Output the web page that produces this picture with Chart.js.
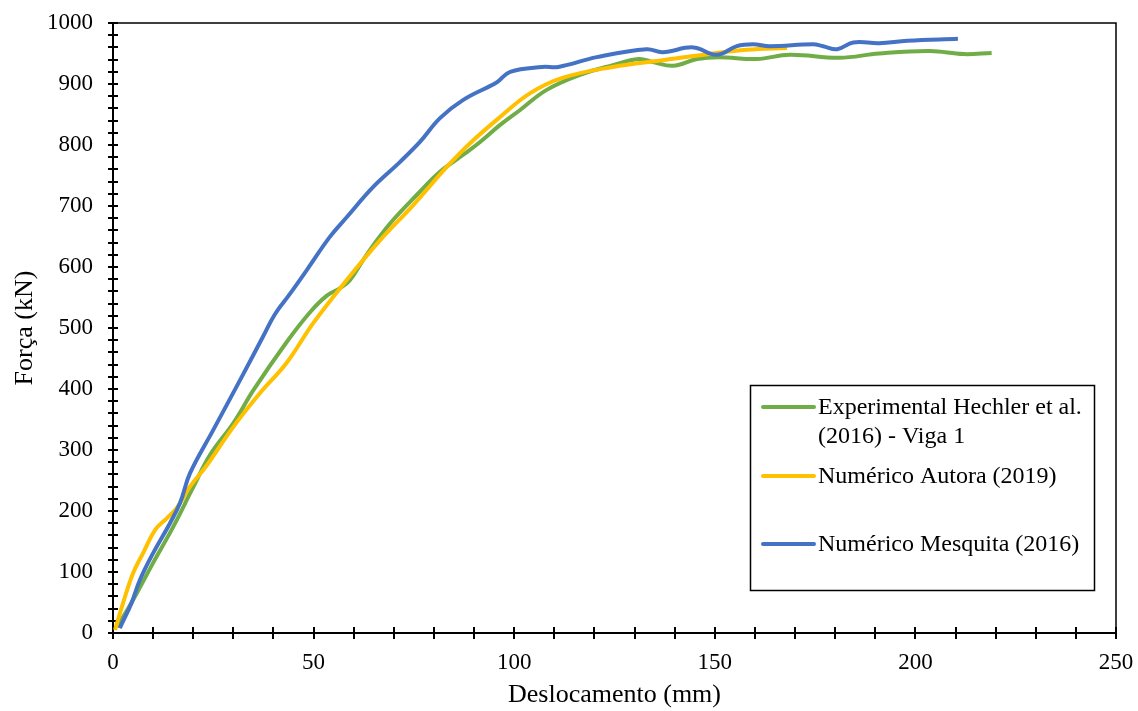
<!DOCTYPE html>
<html lang="pt">
<head>
<meta charset="UTF-8">
<title>Força x Deslocamento</title>
<script src="https://cdn.jsdelivr.net/npm/chart.js"></script>
<style>
  html, body { margin: 0; padding: 0; background: #fff; }
</style>
</head>
<body>
<canvas id="grafico" width="1138" height="711"></canvas>
<script>
  // Curvas força x deslocamento (mm, kN)
  const expX = [1, 5, 10, 15, 20, 24.2, 30, 35, 43.3, 49, 53.3, 56.5, 59, 62.3, 65.8, 69.8, 75.7, 81.5, 87.3, 91.5, 96.5, 101.4, 108, 116.4, 124.6, 131, 134.6, 139.6, 145.6, 151, 160.5, 168.7, 181, 191, 203.6, 212, 219];
  const expY = [10, 54, 115, 174, 239, 292, 344, 398, 477, 525, 553, 565, 578, 611, 644, 677, 718, 756, 784, 805, 833, 857, 890, 915, 931, 941, 936, 930, 941, 944, 941, 948, 943, 950, 954, 949, 951];

  const autoraX = [0.5, 2.5, 5, 7.5, 10.5, 13.4, 15.9, 19.2, 23.4, 30, 36.6, 43.3, 49.9, 58.3, 66.6, 74.9, 83.2, 89, 96.5, 104, 112, 124.6, 137, 149.5, 158, 168];
  const autoraY = [5, 49, 98, 131, 169, 188, 205, 240, 275, 338, 393, 443, 508, 579, 644, 702, 764, 803, 846, 885, 910, 928, 939, 950, 956, 959];

  const mesqX = [1.7, 4.6, 6.7, 10, 14.2, 16.7, 19.2, 25, 31.7, 37.4, 40.4, 44, 48.3, 54, 58.3, 64.8, 71.5, 76.5, 81.5, 87.3, 95.7, 99, 107, 111, 120.6, 133, 137, 144.6, 150.5, 155.5, 159.5, 163.7, 174.5, 177, 180.5, 184.5, 191, 198, 210.6];
  const mesqY = [8, 49, 87, 131, 180, 213, 262, 333, 415, 486, 523, 555, 595, 649, 682, 731, 772, 805, 844, 874, 903, 920, 928, 928, 944, 957, 952, 960, 948, 962, 965, 962, 965, 962, 957, 968, 967, 971, 974];

  const nomes = ['Experimental Hechler et al. (2016) - Viga 1', 'Numérico Autora (2019)', 'Numérico Mesquita (2016)'];
  const cores = ['#70AD47', '#FFC000', '#4472C4'];

  const fonte = '"Liberation Serif", "Times New Roman", serif';

  function pontos(xs, ys) {
    return xs.map((x, i) => ({ x: x, y: ys[i] }));
  }

  // eixos com marcas que cruzam a linha, e moldura da área do gráfico
  const eixos = {
    id: 'eixos',
    beforeDatasetsDraw(chart) {
      const { ctx, chartArea: a, scales } = chart;
      ctx.save();
      ctx.strokeStyle = '#000';
      ctx.lineWidth = 1.5;
      ctx.strokeRect(a.left, a.top, a.right - a.left, a.bottom - a.top);

      ctx.lineWidth = 2;
      ctx.beginPath();
      ctx.moveTo(a.left, a.top);
      ctx.lineTo(a.left, a.bottom);
      ctx.lineTo(a.right, a.bottom);
      ctx.stroke();

      ctx.beginPath();
      for (let v = 0; v <= 250; v += 10) {
        const px = Math.round(scales.x.getPixelForValue(v));
        ctx.moveTo(px, a.bottom - 6);
        ctx.lineTo(px, a.bottom + 6);
      }
      for (let v = 0; v <= 1000; v += 20) {
        const py = Math.round(scales.y.getPixelForValue(v));
        ctx.moveTo(a.left - 5, py);
        ctx.lineTo(a.left + 5, py);
      }
      ctx.stroke();
      ctx.restore();
    },
    afterDraw(chart) {
      // legenda em caixa
      const ctx = chart.ctx;
      ctx.save();
      ctx.strokeStyle = '#000';
      ctx.lineWidth = 1.5;
      ctx.strokeRect(750.5, 385.5, 344, 205);

      const linhas = [
        { y: 407, cor: cores[0], textos: ['Experimental Hechler et al.', '(2016) - Viga 1'] },
        { y: 476, cor: cores[1], textos: ['Numérico Autora (2019)'] },
        { y: 544, cor: cores[2], textos: ['Numérico Mesquita (2016)'] }
      ];
      ctx.font = '24px ' + fonte;
      ctx.textBaseline = 'middle';
      ctx.textAlign = 'left';
      ctx.fillStyle = '#000';
      ctx.lineWidth = 4;
      ctx.lineCap = 'round';
      linhas.forEach(l => {
        ctx.strokeStyle = l.cor;
        ctx.beginPath();
        ctx.moveTo(763, l.y);
        ctx.lineTo(814, l.y);
        ctx.stroke();
        l.textos.forEach((t, i) => ctx.fillText(t, 818, l.y + 1 + i * 29));
      });
      ctx.restore();
    }
  };

  const dados = [[expX, expY], [autoraX, autoraY], [mesqX, mesqY]];

  // marcas invisíveis só para afastar os rótulos do eixo
  const gradeX = { display: true, drawOnChartArea: false, drawTicks: true, tickLength: 16, color: 'rgba(0,0,0,0)' };
  const gradeY = { display: true, drawOnChartArea: false, drawTicks: true, tickLength: 20, color: 'rgba(0,0,0,0)' };

  new Chart(document.getElementById('grafico'), {
    type: 'line',
    data: {
      datasets: dados.map((d, i) => ({
        label: nomes[i],
        data: pontos(d[0], d[1]),
        borderColor: cores[i],
        borderWidth: 4,
        pointRadius: 0,
        tension: 0.4,
        fill: false,
        order: 2 - i
      }))
    },
    options: {
      responsive: false,
      animation: false,
      devicePixelRatio: 1,
      layout: { padding: { top: 23, right: 22, left: 0, bottom: 0 } },
      plugins: {
        legend: { display: false },
        tooltip: { enabled: false }
      },
      scales: {
        x: {
          type: 'linear',
          min: 0,
          max: 250,
          afterFit: s => { s.height = 78; },
          grid: gradeX,
          border: { display: false },
          ticks: { stepSize: 50, padding: 0, color: '#000', font: { family: fonte, size: 23 }, callback: v => String(v) },
          title: { display: true, text: 'Deslocamento (mm)', color: '#000', padding: { top: 4, bottom: 0 }, font: { family: fonte, size: 26 } }
        },
        y: {
          min: 0,
          max: 1000,
          afterFit: s => { s.width = 113; },
          grid: gradeY,
          border: { display: false },
          ticks: { stepSize: 100, padding: 0, color: '#000', font: { family: fonte, size: 23 }, callback: v => String(v) },
          title: { display: true, text: 'Força (kN)', color: '#000', padding: { top: 10, bottom: 0 }, font: { family: fonte, size: 26 } }
        }
      }
    },
    plugins: [eixos]
  });
</script>
</body>
</html>
